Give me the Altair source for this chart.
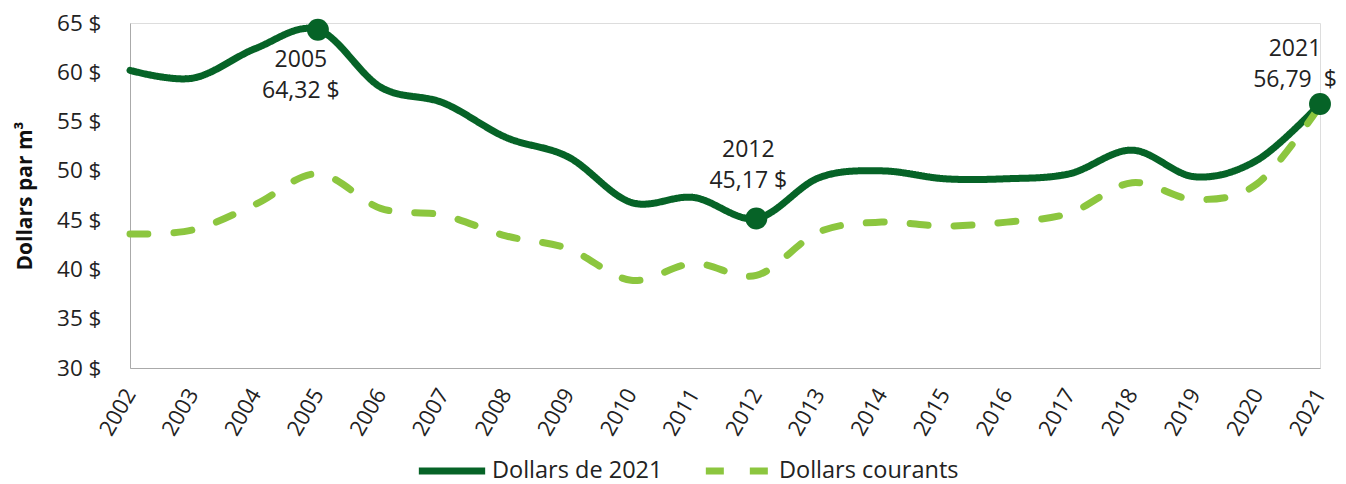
import altair as alt
import pandas as pd

years = list(range(2002, 2022))
dollars_2021 = [60.2, 59.4, 62.4, 64.32, 58.5, 56.9, 53.4, 51.4, 46.8, 47.3,
                45.17, 49.3, 50.0, 49.2, 49.2, 49.7, 52.1, 49.4, 51.1, 56.79]
dollars_courants = [43.6, 44.0, 46.6, 49.7, 46.2, 45.5, 43.4, 42.1, 38.9, 40.6,
                    39.4, 43.8, 44.8, 44.4, 44.8, 45.7, 48.8, 47.1, 48.7, 56.6]
series_names = ["Dollars de 2021", "Dollars courants"]
highlight_years = [2005, 2012, 2021]
highlight_values = [64.32, 45.17, 56.79]
highlight_labels = ["2005\n64,32 $", "2012\n45,17 $", "2021\n56,79\u00a0\u00a0$"]

rows = []
for y, a, b in zip(years, dollars_2021, dollars_courants):
    rows.append({"year": str(y), "value": a, "series": series_names[0]})
    rows.append({"year": str(y), "value": b, "series": series_names[1]})
df = pd.DataFrame(rows)
hl = pd.DataFrame({"year": [str(y) for y in highlight_years],
                   "value": highlight_values, "label": highlight_labels})

FONT = "Open Sans"
DARK = "#066327"
LIGHT = "#8cc63f"

x_enc = alt.X("year:O", scale=alt.Scale(type="point", padding=0),
              axis=alt.Axis(title=None, labelAngle=-60, labelFontSize=22, labelColor="#222",
                            ticks=False, domainColor="#aaaaaa", labelPadding=22,
                            labelFont=FONT))
y_enc = alt.Y("value:Q", scale=alt.Scale(domain=[30, 65], nice=False, zero=False),
              axis=alt.Axis(title="Dollars par m³", values=[30, 35, 40, 45, 50, 55, 60, 65],
                            labelExpr="datum.value + ' $'", grid=False, ticks=False,
                            domainColor="#aaaaaa", labelFontSize=22.5, labelColor="#222",
                            titleFontSize=21, titleFontWeight="bold", titleColor="#111",
                            labelFont=FONT, titleFont=FONT, labelPadding=29, titlePadding=21))

leg = alt.Legend(title=None, orient="none", direction="horizontal", legendX=285, legendY=411,
                 symbolType="stroke", symbolStrokeWidth=7, symbolSize=4400,
                 labelFontSize=23.5, labelFont=FONT, labelColor="#222", labelLimit=0,
                 columnPadding=28, labelOffset=3)

lines = alt.Chart(df).mark_line(interpolate="cardinal", strokeWidth=7, strokeCap="round").encode(
    x=x_enc, y=y_enc,
    color=alt.Color("series:N", scale=alt.Scale(domain=series_names, range=[DARK, LIGHT]), legend=leg),
    strokeDash=alt.StrokeDash("series:N", scale=alt.Scale(domain=series_names, range=[[1, 0], [18, 26]]),
                              legend=leg),
    order=alt.Order("year:O"),
)

points = alt.Chart(hl).mark_circle(size=480, color=DARK, opacity=1).encode(
    x="year:O", y="value:Q")

def label(i, dx, dy):
    return alt.Chart(hl.iloc[[i]]).mark_text(
        fontSize=23, font=FONT, color="#222", lineBreak="\n", lineHeight=31,
        align="center", baseline="top", dx=dx, dy=dy).encode(
        x="year:O", y="value:Q", text="label:N")

chart = alt.layer(lines, points, label(0, -17, 19), label(1, -8, -79),
                  label(2, -25, -66)).properties(
    width=1190, height=345,
    autosize=alt.AutoSizeParams(type="none"),
    padding={"left": 122, "top": 15, "right": 18, "bottom": 125}
).configure_view(stroke=None).configure(font=FONT)

chart.save("out.html", embed_options={"renderer": "svg", "actions": False})
